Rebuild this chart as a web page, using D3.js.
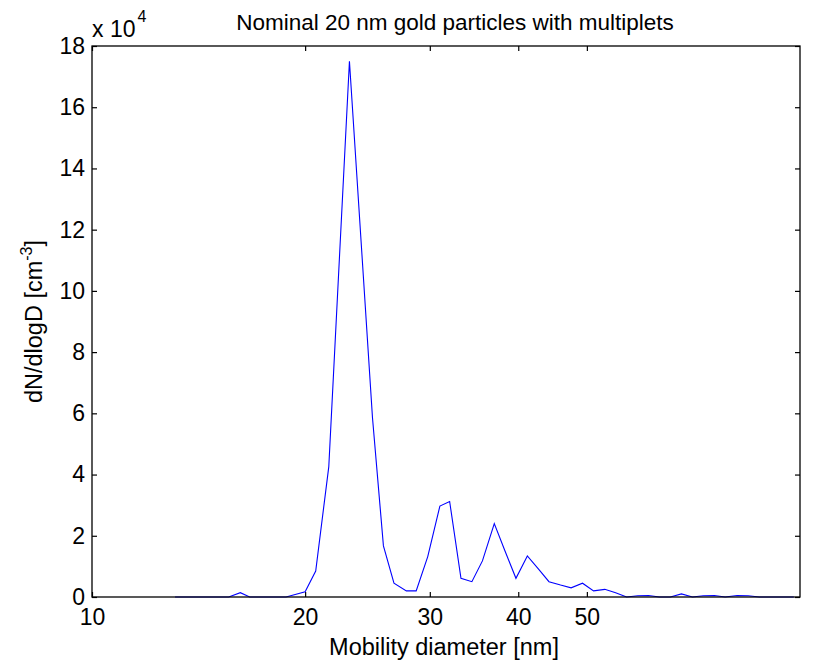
<!DOCTYPE html>
<html>
<head>
<meta charset="utf-8">
<script src="https://cdnjs.cloudflare.com/ajax/libs/d3/7.8.5/d3.min.js"></script>
<style>
  body { margin: 0; background: #fff; }
  text { font-family: "Liberation Sans", Arial, Helvetica, sans-serif; fill: #000; }
</style>
</head>
<body>
<div id="chart"></div>
<script>
// mobility diameter [nm]
var diameters = [13.1, 15.6, 16.2, 16.7, 18.8, 20.0, 20.7, 21.6, 23.1, 24.9,
  25.8, 26.7, 27.8, 28.7, 29.8, 31.0, 32.0, 33.2, 34.4, 35.6,
  37.0, 38.3, 39.7, 41.2, 42.7, 44.2, 45.9, 47.5, 49.3, 51.1,
  53.0, 54.9, 56.9, 59.0, 61.1, 63.3, 65.6, 68.0, 70.5, 73.0,
  75.7, 78.4, 81.5, 84.5, 87.6, 90.8, 94.0, 98.0];

// dN/dlogD [cm^-3]
var conc = [0, 0, 1400, 0, 0, 1700, 8500, 42600, 175000, 58500,
  16700, 4500, 2000, 2000, 13200, 29700, 31200, 6100, 5000, 11800,
  24000, 15100, 6100, 13400, 9200, 5000, 3900, 3000, 4500, 2000,
  2500, 1400, 0, 400, 500, 0, 0, 1000, 0, 400,
  500, 0, 500, 400, 0, 0, 0, 0];

var xTicks = [10, 20, 30, 40, 50];
var yTicks = [0, 20000, 40000, 60000, 80000, 100000, 120000, 140000, 160000, 180000];

(function() {
  var width = 822,
      height = 663;
  var mLeft = 92, mRight = 800, mTop = 46, mBottom = 597;

  var svg = d3.select("#chart")
    .append("svg")
    .attr("width", width)
    .attr("height", height);

  var x = d3.scaleLog()
    .domain([10, 100])
    .range([mLeft, mRight]);

  var y = d3.scaleLinear()
    .domain([0, 180000])
    .range([mBottom, mTop]);

  var data = diameters.map(function(d, i) { return [d, conc[i]]; });

  // axes, ticks pointing in like matlab
  svg.append("g")
    .attr("transform", "translate(0," + mBottom + ")")
    .call(d3.axisBottom(x).tickValues(xTicks).tickSize(-5).tickPadding(12)
      .tickFormat(d3.format("d")));

  svg.append("g")
    .attr("transform", "translate(0," + mTop + ")")
    .call(d3.axisTop(x).tickValues(xTicks).tickSize(-5).tickFormat(""));

  svg.append("g")
    .attr("transform", "translate(" + mLeft + ",0)")
    .call(d3.axisLeft(y).tickValues(yTicks).tickSize(-5).tickPadding(7)
      .tickFormat(function(d) { return d / 10000; }));

  svg.append("g")
    .attr("transform", "translate(" + mRight + ",0)")
    .call(d3.axisRight(y).tickValues(yTicks).tickSize(-5).tickFormat(""));

  svg.selectAll(".domain").remove();
  svg.selectAll(".tick line").attr("stroke", "#000").attr("stroke-width", 1.2);
  svg.selectAll(".tick text").style("font-size", "23px").attr("fill", "#000");

  // the data line
  var line = d3.line()
    .x(function(d) { return x(d[0]); })
    .y(function(d) { return y(d[1]); });

  svg.append("path")
    .datum(data)
    .attr("d", line)
    .attr("fill", "none")
    .attr("stroke", "#0000ff")
    .attr("stroke-width", 1.1);

  // box
  svg.append("rect")
    .attr("x", mLeft)
    .attr("y", mTop)
    .attr("width", mRight - mLeft)
    .attr("height", mBottom - mTop)
    .attr("fill", "none")
    .attr("stroke", "#000")
    .attr("stroke-width", 1.3);

  // title
  svg.append("text")
    .attr("x", 455)
    .attr("y", 30)
    .attr("text-anchor", "middle")
    .style("font-size", "22.5px")
    .text("Nominal 20 nm gold particles with multiplets");

  // exponent label
  var expo = svg.append("text")
    .attr("x", 92)
    .attr("y", 37)
    .style("font-size", "23px");
  expo.append("tspan").text("x 10");
  expo.append("tspan")
    .attr("dy", -15)
    .attr("dx", 2)
    .style("font-size", "16px")
    .text("4");

  // x label
  svg.append("text")
    .attr("x", 444)
    .attr("y", 655)
    .attr("text-anchor", "middle")
    .style("font-size", "23.5px")
    .text("Mobility diameter [nm]");

  // y label
  var ylab = svg.append("text")
    .attr("transform", "translate(42," + ((mTop + mBottom) / 2) + ") rotate(-90)")
    .attr("text-anchor", "middle")
    .style("font-size", "23.5px");
  ylab.append("tspan").text("dN/dlogD [cm");
  ylab.append("tspan").attr("dy", -10).style("font-size", "16px").text("-3");
  ylab.append("tspan").attr("dy", 10).text("]");
})();
</script>
</body>
</html>
